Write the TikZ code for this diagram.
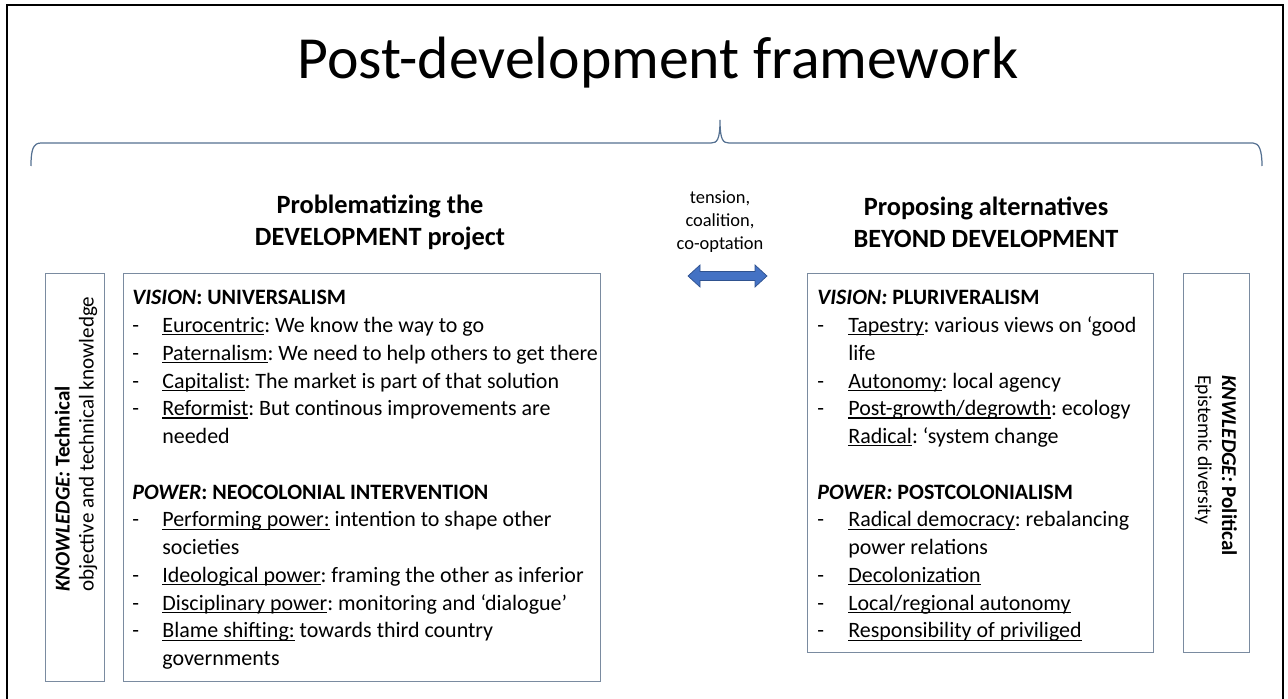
\documentclass[tikz,border=0pt]{standalone}
\usepackage{fontspec}
\setmainfont{Carlito}
\usetikzlibrary{positioning}
\definecolor{boxline}{RGB}{122,139,160}
\definecolor{braceline}{RGB}{84,112,145}
\definecolor{arrowblue}{RGB}{68,114,196}
\definecolor{arrowedge}{RGB}{47,82,143}
\frenchspacing
\newcommand{\bodyfont}{\fontsize{12.5}{15.8}\selectfont}
\newcommand{\ulterm}[1]{\setbox0\hbox{#1}\rlap{\rule[-1.6pt]{\wd0}{0.65pt}}\box0\relax}
\tikzset{
  framebox/.style={draw=boxline, line width=0.7pt, inner sep=0pt},
  listtext/.style={inner sep=0pt, anchor=north west, font=\bodyfont},
  headtext/.style={align=center, font=\fontsize{15}{18.2}\selectfont\bfseries},
  knowtext/.style={align=left, inner sep=0pt, anchor=west},
}

\begin{document}
\begin{tikzpicture}[x=0.02cm, y=-0.02cm]
		%%%%% START %%%%%
		\useasboundingbox (0,0) rectangle (1288,699);
		
		\draw[line width=1.4pt] (7,720) -- (7,5) -- (1283,5) -- (1283,720);
		
		\node[font=\fontsize{34}{41}\selectfont] (title) at (658,63) {Post-development framework};
		
		\draw[braceline, line width=0.7pt] (31,166) .. controls (31,150) and (33,143) .. (41,143) -- (711,143)
			.. controls (717,143) and (720,140) .. (720,120) .. controls (720,140) and (723,143) .. (729,143)
			-- (1253,143) .. controls (1259,143) and (1262,150) .. (1262,166);
		
		\node[headtext] (probhead) at (380,222) {Problematizing the\\DEVELOPMENT project};
		\node[headtext] (althead) at (986,222) {Proposing alternatives\\BEYOND DEVELOPMENT};
		\node[align=center, font=\fontsize{10.5}{13.1}\selectfont] (tension) at (720,222) {tension,\\coalition,\\co-optation};
		
		\filldraw[fill=arrowblue, draw=arrowedge, line width=0.4pt] (688,276) -- (700,265) -- (700,271.5) -- (755,271.5)
			-- (755,265) -- (767,276) -- (755,287) -- (755,280.5) -- (700,280.5) -- (700,287) -- cycle;
		
		% left side
		\node[framebox, minimum width=1.18cm, minimum height=8.16cm, anchor=north west] (techbox) at (45,273) {};
		\node[framebox, minimum width=9.54cm, minimum height=8.16cm, anchor=north west] (leftbox) at (123,273) {};
		\node[knowtext, rotate=90, font=\fontsize{12}{13.7}\selectfont] (techlabel) at (76,592)
			{\textbf{\textit{KNOWLEDGE:} Technical}\\objective and technical knowledge};
		\node[listtext] (leftlist) at ([xshift=0.18cm, yshift=-0.24cm]leftbox.north west) {%
			\begin{tabular}{@{}p{0.6cm}@{}l@{}}
			\multicolumn{2}{@{}l@{}}{\textbf{\textit{VISION}: UNIVERSALISM}}\\
			- & \ulterm{Eurocentric}: We know the way to go\\
			- & \ulterm{Paternalism}: We need to help others to get there\\
			- & \ulterm{Capitalist}: The market is part of that solution\\
			- & \ulterm{Reformist}: But continous improvements are\\
			  & needed\\
			\multicolumn{2}{@{}l@{}}{}\\
			\multicolumn{2}{@{}l@{}}{\textbf{\textit{POWER}: NEOCOLONIAL INTERVENTION}}\\
			- & \ulterm{Performing power:} intention to shape other\\
			  & societies\\
			- & \ulterm{Ideological power}: framing the other as inferior\\
			- & \ulterm{Disciplinary power}: monitoring and `dialogue'\\
			- & \ulterm{Blame shifting:} towards third country\\
			  & governments
			\end{tabular}};
		
		% right side
		\node[framebox, minimum width=6.92cm, minimum height=7.58cm, anchor=north west] (rightbox) at (807,273) {};
		\node[framebox, minimum width=1.32cm, minimum height=7.58cm, anchor=north west] (polbox) at (1183,273) {};
		\node[knowtext, rotate=-90, font=\fontsize{12}{13.7}\selectfont] (pollabel) at (1216,375)
			{\textbf{\textit{KNWLEDGE:} Political}\\{\fontsize{11.2}{13.7}\selectfont Epistemic diversity}};
		\node[listtext] (rightlist) at ([xshift=0.2cm, yshift=-0.24cm]rightbox.north west) {%
			\begin{tabular}{@{}p{0.62cm}@{}l@{}}
			\multicolumn{2}{@{}l@{}}{\textbf{\textit{VISION:} PLURIVERALISM}}\\
			- & \ulterm{Tapestry}: various views on `good\\
			  & life\\
			- & \ulterm{Autonomy}: local agency\\
			- & \ulterm{Post-growth/degrowth}: ecology\\
			  & \ulterm{Radical}: `system change\\
			\multicolumn{2}{@{}l@{}}{}\\
			\multicolumn{2}{@{}l@{}}{\textbf{\textit{POWER:} POSTCOLONIALISM}}\\
			- & \ulterm{Radical democracy}: rebalancing\\
			  & power relations\\
			- & \ulterm{Decolonization}\\
			- & \ulterm{Local/regional autonomy}\\
			- & \ulterm{Responsibility of priviliged}
			\end{tabular}};
		%%%%% END %%%%%
\end{tikzpicture}
\end{document}
